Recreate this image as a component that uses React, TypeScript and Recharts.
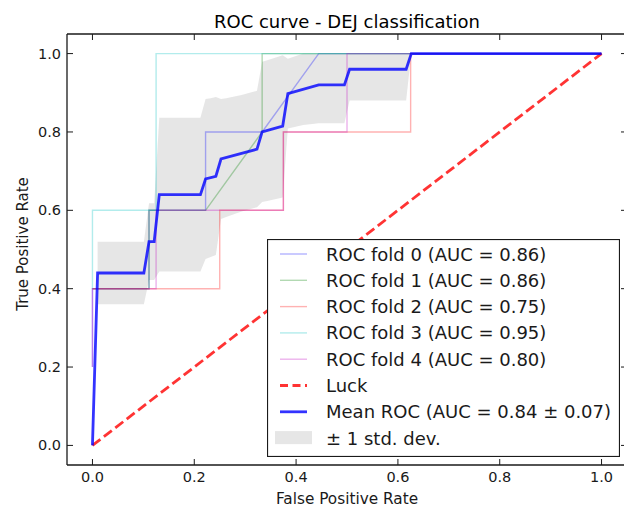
import { ComposedChart, Line, Area, XAxis, YAxis, Legend, Label } from "recharts";

// per-fold ROC points (fpr, tpr)
const fold0Fpr = [0, 0, 0.1111, 0.1111, 0.2222, 0.2222, 0.3333, 0.4444, 1];
const fold0Tpr = [0.2, 0.4, 0.4, 0.6, 0.6, 0.8, 0.8, 1, 1];
const fold1Fpr = [0, 0.1111, 0.1111, 0.2222, 0.3333, 0.3333, 1];
const fold1Tpr = [0.4, 0.4, 0.6, 0.6, 0.8, 1, 1];
const fold2Fpr = [0, 0.25, 0.25, 0.375, 0.375, 0.625, 0.625, 1];
const fold2Tpr = [0.4, 0.4, 0.6, 0.6, 0.8, 0.8, 1, 1];
const fold3Fpr = [0, 0, 0.125, 0.125, 1];
const fold3Tpr = [0.4, 0.6, 0.6, 1, 1];
const fold4Fpr = [0, 0, 0.125, 0.125, 0.375, 0.375, 0.5, 0.5, 1];
const fold4Tpr = [0.2, 0.4, 0.4, 0.6, 0.6, 0.8, 0.8, 1, 1];

const luckFpr = [0, 1];
const luckTpr = [0, 1];

// mean ROC breakpoints
const meanFpr = [0, 0.0101, 0.101, 0.1111, 0.1212, 0.1313, 0.2121, 0.2222, 0.2424, 0.2525, 0.3232, 0.3333, 0.3737, 0.3838, 0.4444, 0.4949, 0.5051, 0.6162, 0.6263, 1];
const meanTpr = [0, 0.44, 0.44, 0.52, 0.52, 0.64, 0.64, 0.68, 0.687, 0.731, 0.756, 0.8, 0.815, 0.898, 0.92, 0.92, 0.96, 0.96, 1, 1];

// +/- 1 std band
const bandFpr = [0.0101, 0.101, 0.1111, 0.1212, 0.1313, 0.2121, 0.2222, 0.2323, 0.2424, 0.2525, 0.2626, 0.2929, 0.3232, 0.3333, 0.3434, 0.3737, 0.3838, 0.4141, 0.4444, 0.4949, 0.5051, 0.6162, 0.6263, 1];
const bandLow = [0.36, 0.36, 0.422, 0.422, 0.444, 0.444, 0.476, 0.481, 0.486, 0.578, 0.583, 0.597, 0.608, 0.621, 0.624, 0.633, 0.809, 0.818, 0.822, 0.822, 0.88, 0.88, 1, 1];
const bandHigh = [0.52, 0.52, 0.618, 0.618, 0.836, 0.836, 0.884, 0.886, 0.889, 0.884, 0.886, 0.894, 0.905, 0.979, 0.983, 0.996, 0.987, 1, 1, 1, 1, 1, 1, 1];

const tickValues = [0, 0.2, 0.4, 0.6, 0.8, 1.0];

const foldLabels = [
  "ROC fold 0 (AUC = 0.86)",
  "ROC fold 1 (AUC = 0.86)",
  "ROC fold 2 (AUC = 0.75)",
  "ROC fold 3 (AUC = 0.95)",
  "ROC fold 4 (AUC = 0.80)",
];
const luckLabel = "Luck";
const meanLabel = "Mean ROC (AUC = 0.84 \u00b1 0.07)";
const bandLabel = "\u00b1 1 std. dev.";

const foldColors = ["#0000ff", "#008000", "#ff0000", "#00bfbf", "#bf00bf"];
const ink = "#1a1a1a";
const font = "'DejaVu Sans', sans-serif";

const toPoints = (xs: number[], ys: number[]) => xs.map((x, i) => ({ x, y: ys[i] }));
const folds = [
  toPoints(fold0Fpr, fold0Tpr),
  toPoints(fold1Fpr, fold1Tpr),
  toPoints(fold2Fpr, fold2Tpr),
  toPoints(fold3Fpr, fold3Tpr),
  toPoints(fold4Fpr, fold4Tpr),
];
const luck = toPoints(luckFpr, luckTpr);
const mean = toPoints(meanFpr, meanTpr);
const band = bandFpr.map((x, i) => ({ x, band: [bandLow[i], bandHigh[i]] }));

const fmt = (v: number) => v.toFixed(1);

function BottomTick({ x, y, payload }: any) {
  return (
    <g>
      <line x1={x} x2={x} y1={y} y2={y - 6} stroke={ink} strokeWidth={1} />
      <text x={x} y={y + 17} textAnchor="middle" fontSize={14.5} fontFamily={font} fill={ink}>
        {fmt(payload.value)}
      </text>
    </g>
  );
}

function TopTick({ x, y }: any) {
  return <line x1={x} x2={x} y1={y} y2={y + 6} stroke={ink} strokeWidth={1} />;
}

function LeftTick({ x, y, payload }: any) {
  return (
    <g>
      <line x1={x} x2={x + 6} y1={y} y2={y} stroke={ink} strokeWidth={1} />
      <text x={x - 6} y={y + 5} textAnchor="end" fontSize={14.5} fontFamily={font} fill={ink}>
        {fmt(payload.value)}
      </text>
    </g>
  );
}

function RightTick({ x, y }: any) {
  return <line x1={x} x2={x - 6} y1={y} y2={y} stroke={ink} strokeWidth={1} />;
}

function RocLegend() {
  const rows = [
    ...foldLabels.map((label, i) => ({ label, kind: "fold", color: foldColors[i] })),
    { label: luckLabel, kind: "luck", color: "#ff0000" },
    { label: meanLabel, kind: "mean", color: "#0000ff" },
    { label: bandLabel, kind: "band", color: "#808080" },
  ];
  return (
    <svg width={353} height={218} style={{ display: "block" }}>
      <rect x={0.5} y={0.5} width={352} height={217} fill="#fff" stroke={ink} strokeWidth={1.2} />
      {rows.map((r, i) => {
        const cy = 15 + i * 26.3;
        let handle;
        if (r.kind === "band") {
          handle = <rect x={8} y={cy - 7} width={37} height={13} fill={r.color} fillOpacity={0.2} />;
        } else if (r.kind === "fold") {
          handle = <line x1={13} x2={40} y1={cy} y2={cy} stroke={r.color} strokeOpacity={0.3} strokeWidth={1.4} />;
        } else {
          handle = (
            <line x1={13} x2={40} y1={cy} y2={cy} stroke={r.color} strokeOpacity={0.8} strokeWidth={2.8}
              strokeDasharray={r.kind === "luck" ? "8 4.5" : undefined} />
          );
        }
        return (
          <g key={r.label}>
            {handle}
            <text x={59} y={cy + 6.5} fontSize={18} fontFamily={font} fill={ink}>{r.label}</text>
          </g>
        );
      })}
    </svg>
  );
}

export default function App() {
  return (
    <div style={{ position: "absolute", left: 0, top: 0, width: 624, height: 507, overflow: "hidden", background: "#fff" }}>
      <ComposedChart width={640} height={507} margin={{ top: 33, right: 12, bottom: 0, left: 0 }}>
        <XAxis
          xAxisId={0}
          type="number"
          dataKey="x"
          domain={[-0.05, 1.05]}
          allowDataOverflow
          ticks={tickValues}
          interval={0}
          height={42}
          tickSize={0}
          tickMargin={0}
          tickLine={false}
          axisLine={{ stroke: ink, strokeWidth: 1.3 }}
          tick={<BottomTick />}
        >
          <Label
            content={(p: any) => {
              const vb = p.viewBox || { x: 67, y: 465, width: 560 };
              return (
                <text x={vb.x + vb.width / 2} y={vb.y + 38.5} textAnchor="middle" fontSize={15.3} fontFamily={font} fill={ink}>
                  False Positive Rate
                </text>
              );
            }}
          />
        </XAxis>
        {/* mirrored axes only carry the top/right spines and inward ticks */}
        <XAxis
          xAxisId="top"
          orientation="top"
          type="number"
          dataKey="x"
          domain={[-0.05, 1.05]}
          allowDataOverflow
          ticks={tickValues}
          interval={0}
          height={1}
          tickSize={0}
          tickMargin={0}
          tickLine={false}
          axisLine={{ stroke: ink, strokeWidth: 1.3 }}
          tick={<TopTick />}
        >
          <Label
            content={(p: any) => {
              const vb = p.viewBox || { x: 67, y: 33, width: 560, height: 1 };
              return (
                <text x={vb.x + vb.width / 2} y={vb.y - 5} textAnchor="middle" fontSize={18} fontFamily={font} fill="#000">
                  ROC curve - DEJ classification
                </text>
              );
            }}
          />
        </XAxis>
        <YAxis
          yAxisId={0}
          type="number"
          domain={[-0.05, 1.05]}
          allowDataOverflow
          ticks={tickValues}
          interval={0}
          width={67}
          tickSize={0}
          tickMargin={0}
          tickLine={false}
          axisLine={{ stroke: ink, strokeWidth: 1.3 }}
          tick={<LeftTick />}
        >
          <Label
            content={(p: any) => {
              const vb = p.viewBox || { x: 0, y: 34, height: 431 };
              const cx = vb.x + 28;
              const cy = vb.y + vb.height / 2 - 5.5;
              return (
                <text x={cx} y={cy} transform={`rotate(-90, ${cx}, ${cy})`} textAnchor="middle" fontSize={15} fontFamily={font} fill={ink}>
                  True Positive Rate
                </text>
              );
            }}
          />
        </YAxis>
        <YAxis
          yAxisId="right"
          orientation="right"
          type="number"
          domain={[-0.05, 1.05]}
          allowDataOverflow
          ticks={tickValues}
          interval={0}
          width={1}
          tickSize={0}
          tickMargin={0}
          tickLine={false}
          axisLine={{ stroke: ink, strokeWidth: 1.3 }}
          tick={<RightTick />}
        />
        {folds.map((d, i) => (
          <Line
            key={foldLabels[i]}
            data={d}
            dataKey="y"
            type="linear"
            stroke={foldColors[i]}
            strokeOpacity={0.3}
            strokeWidth={1.4}
            dot={false}
            activeDot={false}
            isAnimationActive={false}
          />
        ))}
        <Line
          xAxisId="top"
          yAxisId="right"
          data={luck}
          dataKey="y"
          type="linear"
          stroke="#ff0000"
          strokeOpacity={0.8}
          strokeWidth={2.8}
          strokeDasharray="10 4.4"
          dot={false}
          activeDot={false}
          isAnimationActive={false}
        />
        <Line
          data={mean}
          dataKey="y"
          type="linear"
          stroke="#0000ff"
          strokeOpacity={0.8}
          strokeWidth={2.8}
          dot={false}
          activeDot={false}
          isAnimationActive={false}
        />
        <Area
          data={band}
          dataKey="band"
          type="linear"
          stroke="none"
          fill="#808080"
          fillOpacity={0.2}
          dot={false}
          activeDot={false}
          isAnimationActive={false}
        />
        <Legend
          layout="vertical"
          align="center"
          verticalAlign="middle"
          content={() => <RocLegend />}
          wrapperStyle={{ left: 267, top: 239, width: 353, height: 218 }}
        />
      </ComposedChart>
    </div>
  );
}
